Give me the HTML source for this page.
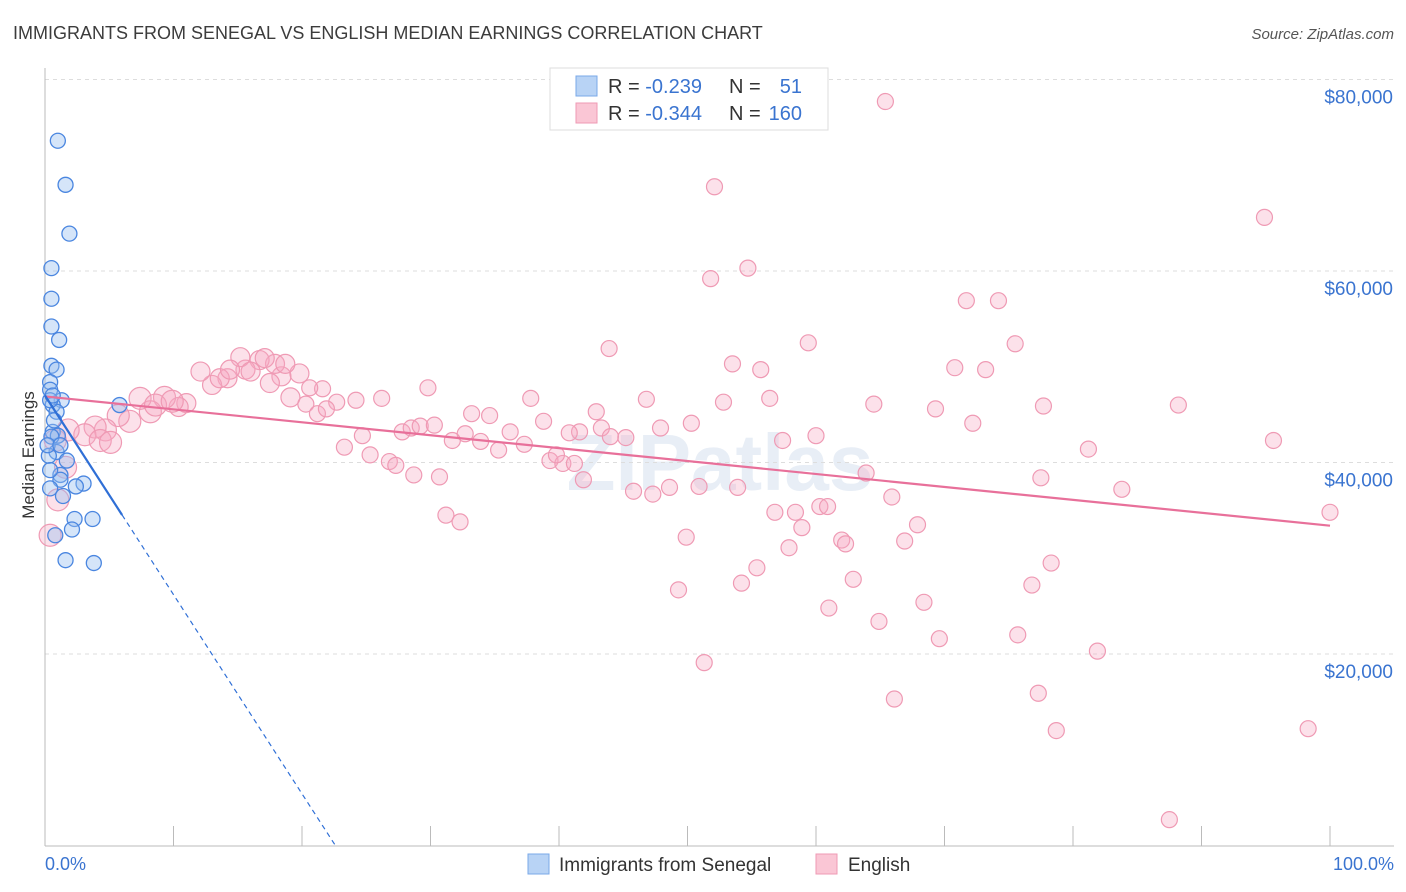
<!DOCTYPE html>
<html><head><meta charset="utf-8"><style>
body{margin:0;background:#fff;font-family:"Liberation Sans",sans-serif;}
svg{display:block}
</style></head><body>
<svg id="chart" width="1406" height="892" xmlns="http://www.w3.org/2000/svg" font-family="Liberation Sans, sans-serif">
<text x="13" y="39" font-size="18" fill="#3c3c3c">IMMIGRANTS FROM SENEGAL VS ENGLISH MEDIAN EARNINGS CORRELATION CHART</text>
<text x="1394" y="39" font-size="15" fill="#555" font-style="italic" text-anchor="end">Source: ZipAtlas.com</text>
<text x="720" y="490" font-size="80" fill="#e8eef6" text-anchor="middle" font-weight="bold">ZIPatlas</text>
<g id="grid"></g>
<g id="yticks"></g>
<g id="xaxis"></g>
<text transform="translate(34,455) rotate(-90)" font-size="17" fill="#333" text-anchor="middle">Median Earnings</text>
<g id="pink"></g>
<g id="blue"></g>
<g id="trends"></g>
<g>
<rect x="550" y="68" width="278" height="62" fill="#fff" stroke="#ddd"/>
<rect x="576" y="76" width="21" height="20" fill="#b8d3f5" stroke="#7aa8e8"/>
<rect x="576" y="103" width="21" height="20" fill="#fac6d5" stroke="#ef9ab4"/>
<text x="608" y="93" font-size="20" fill="#333">R = <tspan fill="#3a74d0">-0.239</tspan></text>
<text x="729" y="93" font-size="20" fill="#333">N = </text><text x="802" y="93" font-size="20" fill="#3a74d0" text-anchor="end">51</text>
<text x="608" y="120" font-size="20" fill="#333">R = <tspan fill="#3a74d0">-0.344</tspan></text>
<text x="729" y="120" font-size="20" fill="#333">N = </text><text x="802" y="120" font-size="20" fill="#3a74d0" text-anchor="end">160</text>
</g>
<g>
<rect x="528" y="854" width="21" height="20" fill="#b8d3f5" stroke="#7aa8e8"/>
<text x="559" y="871" font-size="19" fill="#333">Immigrants from Senegal</text>
<rect x="816" y="854" width="21" height="20" fill="#fac6d5" stroke="#ef9ab4"/>
<text x="848" y="871" font-size="19" fill="#333">English</text>
</g>
<text x="45" y="870" font-size="18" fill="#3a74d0">0.0%</text>
<text x="1394" y="870" font-size="18" fill="#3a74d0" text-anchor="end">100.0%</text>
</svg>
<script>
const yTicks=[20000,40000,60000,80000];
const yTickLabels=["$20,000","$40,000","$60,000","$80,000"];
const pinkX=[65.4,52.1,94.9,54.7,51.8,71.7,74.2,43.9,59.4,75.5,53.5,55.7,70.8,73.2,29.8,37.8,46.8,52.8,56.4,64.5,69.3,77.7,88.2,42.9,33.2,34.6,38.8,50.3,47.9,72.2,95.6,57.4,60.0,81.2,43.3,41.6,45.2,44.0,40.8,36.2,32.7,33.9,35.3,37.3,24.7,23.3,27.8,28.5,29.2,30.3,31.7,25.3,26.8,27.3,28.7,30.7,39.3,40.3,41.2,39.8,41.9,45.8,47.3,48.6,50.9,53.9,63.9,65.9,83.8,56.8,58.4,60.3,60.9,58.9,67.9,31.2,32.3,49.9,62.0,62.3,66.9,57.9,55.4,62.9,54.2,49.3,78.3,76.8,68.4,61.0,64.9,69.6,75.7,81.9,51.3,66.1,77.3,78.7,98.3,87.5,100,77.5,19.1,18.4,21.6,24.2,26.2,22.7,20.3,21.2,21.9,17.9,16.7,15.6,17.5,19.8,20.6,15.2,14.2,13.0,12.1,11.0,10.4,9.3,8.2,7.4,6.6,5.7,4.7,3.9,3.1,1.8,0.8,0.4,1.0,1.6,4.3,5.1,8.6,9.9,13.6,14.4,16.0,17.1,18.7];
const pinkY=[77.7,68.8,65.6,60.3,59.2,56.9,56.9,51.9,52.5,52.4,50.3,49.7,49.9,49.7,47.8,46.7,46.6,46.3,46.7,46.1,45.6,45.9,46.0,45.3,45.1,44.9,44.3,44.1,43.6,44.1,42.3,42.3,42.8,41.4,43.6,43.2,42.6,42.7,43.1,43.2,43.0,42.2,41.3,41.9,42.8,41.6,43.2,43.6,43.8,43.9,42.3,40.8,40.1,39.7,38.7,38.5,40.2,39.9,39.9,40.8,38.2,37.0,36.7,37.4,37.5,37.4,38.9,36.4,37.2,34.8,34.8,35.4,35.4,33.2,33.5,34.5,33.8,32.2,31.9,31.5,31.8,31.1,29.0,27.8,27.4,26.7,29.5,27.2,25.4,24.8,23.4,21.6,22.0,20.3,19.1,15.3,15.9,12.0,12.2,2.7,34.8,38.4,46.8,49.0,47.7,46.5,46.7,46.3,46.1,45.1,45.6,50.3,50.7,49.7,48.3,49.3,47.8,51.0,48.8,48.1,49.5,46.2,45.8,46.8,45.3,46.7,44.3,44.9,43.4,43.7,42.9,43.4,42.3,32.4,36.1,39.5,42.3,42.1,46.0,46.4,48.8,49.7,49.5,50.9,50.3];
const blueX=[1.0,1.6,1.9,0.5,0.5,0.5,1.1,0.5,0.9,0.4,0.4,1.3,0.6,0.9,0.6,1.0,0.5,0.9,0.3,1.7,1.2,1.2,3.0,2.4,0.4,1.4,0.8,2.3,2.1,3.7,1.6,3.8,0.4,0.7,0.2,1.2,0.4,5.8,0.6];
const blueY=[73.6,69.0,63.9,60.3,57.1,54.2,52.8,50.1,49.7,48.4,47.6,46.5,46.0,45.3,43.2,42.8,42.7,41.1,40.7,40.2,38.7,38.2,37.8,37.5,37.3,36.5,32.4,34.1,33.0,34.1,29.8,29.5,46.5,44.4,41.8,41.8,39.2,46.0,47.0];
const pinkTrend=[46.9,33.4];
const blueTrend=[47.0,-2.08];
const blueSolidEnd=6;
const NS="http://www.w3.org/2000/svg";
const xs=p=>45+p*12.85;
const ys=k=>654-(k*1000-20000)*191.5/20000;
function mk(tag,attrs,parent){const e=document.createElementNS(NS,tag);for(const k in attrs)e.setAttribute(k,attrs[k]);parent.appendChild(e);return e;}
const grid=document.getElementById('grid'),yt=document.getElementById('yticks'),xa=document.getElementById('xaxis');
yTicks.forEach((v,i)=>{const y=ys(v/1000);
const l=mk('line',{x1:45,x2:1394,y1:y,y2:y,stroke:'#ddd','stroke-dasharray':'4,4'},grid);


const t=mk('text',{x:1393,y:y+24,'font-size':19,fill:'#3a74d0','text-anchor':'end'},yt);t.textContent=yTickLabels[i];

});
mk('line',{x1:45,x2:45,y1:68,y2:846,stroke:'#bbb'},xa);
mk('line',{x1:45,x2:1394,y1:846,y2:846,stroke:'#bbb'},xa);
for(let i=0;i<=10;i++){const x=xs(i*10);const t=mk('line',{x1:x,x2:x,y1:826,y2:846,stroke:'#bbb'},xa);

}
const pg=document.getElementById('pink');
pinkX.forEach((x,i)=>{const r=x<20?(x<10?11:9.5):8;const c=mk('circle',{cx:xs(x),cy:ys(pinkY[i]),r:r,fill:'rgba(247,170,195,0.35)',stroke:'#ef9ab4','stroke-width':1.2},pg);

});
const bg=document.getElementById('blue');
blueX.forEach((x,i)=>{const c=mk('circle',{cx:xs(x),cy:ys(blueY[i]),r:7.5,fill:'rgba(150,190,240,0.4)',stroke:'#4a86e0','stroke-width':1.3},bg);

});
const tg=document.getElementById('trends');
const pl=mk('line',{x1:xs(0),y1:ys(pinkTrend[0]),x2:xs(100),y2:ys(pinkTrend[1]),stroke:'#e8709a','stroke-width':2.2},tg);


const bEnd=blueTrend[0]+blueTrend[1]*blueSolidEnd;
const bl=mk('line',{x1:xs(0),y1:ys(blueTrend[0]),x2:xs(blueSolidEnd),y2:ys(bEnd),stroke:'#2f6fd6','stroke-width':2.2},tg);


const zx=-blueTrend[0]/blueTrend[1];
const bd=mk('line',{x1:xs(blueSolidEnd),y1:ys(bEnd),x2:xs(zx),y2:ys(0),stroke:'#2f6fd6','stroke-width':1.2,'stroke-dasharray':'5,4'},tg);


</script>
</body></html>
